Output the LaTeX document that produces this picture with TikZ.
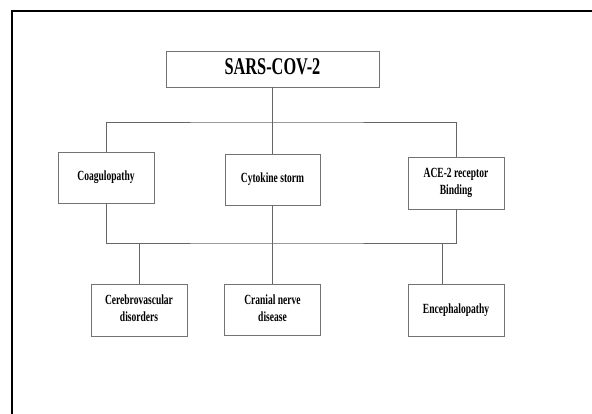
\documentclass[tikz,border=0pt]{standalone}
\usepackage{graphicx}
\usepackage{fontspec}
\setmainfont{Liberation Serif}
\usepackage{tikz}
\tikzset{
box/.style = {rectangle, draw=black!55, line width=0.8pt, minimum width=#1,
              inner sep=2pt, font=\bfseries\fontsize{14}{17}\selectfont},
box/.default = 96pt, % width of the boxes
link/.style = {draw=black!60, line width=0.6pt},
frame/.style = {draw=black, line width=2.2pt}
}
\newcommand{\sqz}[1]{\scalebox{0.68}[1]{\begin{tabular}{@{}c@{}}#1\end{tabular}}}

\begin{document}
\begin{tikzpicture}[x=1pt, y=-1pt]

    \useasboundingbox (0,0) rectangle (592,414);
    \draw[frame] (12,418) -- (12,11) -- (596,11);

    \node[box=213pt, minimum height=36pt, font=\bfseries\fontsize{24}{28}\selectfont] (sarsBox) at (272.5,69) {\sqz{SARS-COV-2}};

    \node[box, minimum height=51pt] (coagBox) at (106,177.5) {\sqz{Coagulopathy}};
    \node[box=95pt, minimum height=51pt] (cytoBox) at (272.5,179.5) {\sqz{Cytokine storm}};
    \node[box, minimum height=52pt] (aceBox) at (456,183) {\sqz{ACE-2 receptor\\Binding}};

    \node[box, minimum height=52pt] (cereBox) at (139,310) {\sqz{Cerebrovascular\\disorders}};
    \node[box, minimum height=51pt] (cranBox) at (272.5,309.5) {\sqz{Cranial nerve\\disease}};
    \node[box, minimum height=52pt] (encBox) at (456,310) {\sqz{Encephalopathy}};

    \coordinate (topBus) at (272.5,122);
    \coordinate (lowBus) at (272.5,243);

    \draw[link] (sarsBox) -- (cytoBox);
    \draw[link] (coagBox.north) |- (topBus) -| (aceBox.north);

    \draw[link] (cytoBox) -- (cranBox);
    \draw[link] (coagBox.south) |- (lowBus) -| (aceBox.south);
    \draw[link] (cereBox.north) -- (cereBox.north |- lowBus);
    \draw[link] ([xshift=-14pt]encBox.north) -- ([xshift=-14pt]encBox.north |- lowBus);
  \end{tikzpicture}
\end{document}
